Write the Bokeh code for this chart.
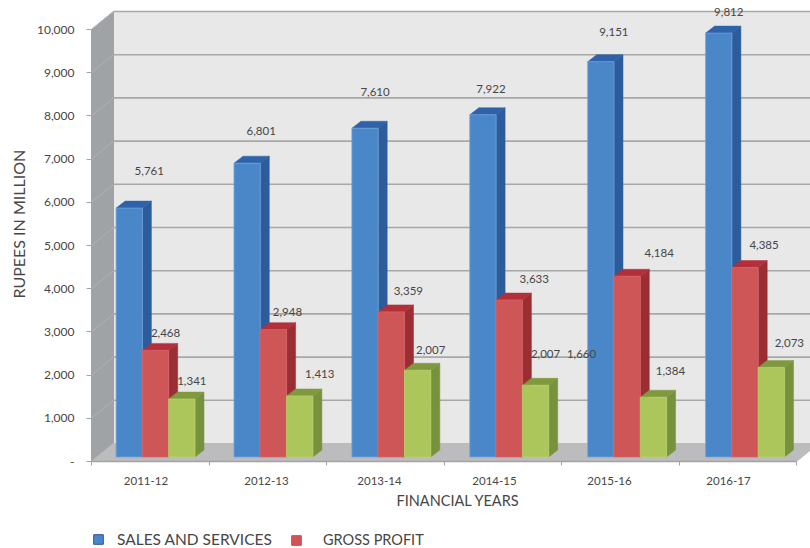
from bokeh.plotting import figure
from bokeh.layouts import column
from bokeh.models import ColumnDataSource, FixedTicker, LinearAxis, Title, Legend, LegendItem, Range1d
from bokeh.core.properties import value
from bokeh.embed import file_html
from bokeh.resources import INLINE

# Chart data
years = ["2011-12", "2012-13", "2013-14", "2014-15", "2015-16", "2016-17"]
sales = [5761, 6801, 7610, 7922, 9151, 9812]
gross = [2468, 2948, 3359, 3633, 4184, 4385]
other = [1341, 1413, 2007, 1660, 1384, 2073]
extra_label = "2,007"

# Hand-placed data label nudges, in pixels from the top centre of each bar
sales_nudge = [(20, 37), (14, 32), (10, 36), (8, 26), (13, 30), (10, 21)]
gross_nudge = [(10, 17), (14, 18), (17, 21), (25, 21), (32, 23), (19, 23)]
other_nudge = [(10, 18), (20, 22), (13, 20), (46, 31), (17, 26), (18, 24)]
extra_nudge = (10, 31)
year_label_px = [145.5, 266, 379, 494, 609, 728]

# Layout scale
W, H = 810, 548
KEY_H = 30
LEFT, BOTTOM = 91, 57
PX_PER_GROUP = 117.5
PX_PER_UNIT = 0.0432
FONT = "Lato"
TEXT = "#464646"
AXIS = "#a3a3a3"

dx = lambda px: px / PX_PER_GROUP
dy = lambda px: px / PX_PER_UNIT

p = figure(width=W, height=H - KEY_H, output_backend="svg", toolbar_location=None,
           min_border_left=LEFT, min_border_right=0, min_border_top=0, min_border_bottom=BOTTOM,
           x_axis_type=None, y_axis_type=None,
           x_range=Range1d(0, (W - LEFT) / PX_PER_GROUP),
           y_range=Range1d(0, dy(H - KEY_H - BOTTOM)))
p.outline_line_color = None
p.grid.visible = False
p.background_fill_color = "white"
p.border_fill_color = "white"

# 3D box: back wall, side wall, floor
WALL_X, WALL_Y = dx(22), dy(18)
x_end = 6.0
y_top = 10000
p.patch([WALL_X, x_end + WALL_X, x_end + WALL_X, WALL_X],
        [WALL_Y, WALL_Y, y_top + WALL_Y, y_top + WALL_Y], color="#e8e8e8", line_width=0)
p.patch([0, WALL_X, WALL_X, 0], [0, WALL_Y, y_top + WALL_Y, y_top],
        fill_color="#a0a3a6", line_color="#a0a3a6")
levels = list(range(1000, 11000, 1000))
p.segment([WALL_X] * 10, [v + WALL_Y for v in levels], [x_end + WALL_X] * 10, [v + WALL_Y for v in levels],
          line_color="#a8a8a8", line_width=1.6)
p.segment([0] * 10, levels, [WALL_X] * 10, [v + WALL_Y for v in levels],
          line_color="#aeb1b4", line_width=1)
p.patch([0, x_end, x_end + WALL_X, WALL_X], [0, 0, WALL_Y, WALL_Y],
        fill_color="#bcbcbe", line_color="#bcbcbe")

# Bars: each has a front face, a side face and a top face
BASE = dy(4.5)
BAR_W = dx(26.3)
DEPTH_X, DEPTH_Y = dx(9), dy(7)
START = dx(24.6)
PITCH = dx(117.9)
series = [
    (sales, "#4a87c9", "#2c5c9b", "#2f62a9", "#6fa3dc", sales_nudge),
    (gross, "#ce5656", "#9a2e33", "#b3303a", "#d9626a", gross_nudge),
    (other, "#acc65b", "#76923c", "#80993f", "#b9d06a", other_nudge),
]
label_x, label_y, label_text, label_dx, label_dy = [], [], [], [], []
for s, (vals, face, side, top, edge, nudge) in enumerate(series):
    lefts = [START + PITCH * i + BAR_W * s for i in range(len(vals))]
    rights = [x + BAR_W for x in lefts]
    tops = [v + BASE for v in vals]
    p.patches([[r, r + DEPTH_X, r + DEPTH_X, r] for r in rights],
              [[BASE, BASE + DEPTH_Y, t + DEPTH_Y, t] for t in tops],
              fill_color=side, line_color=side, line_width=0.5)
    p.patches([[l, r, r + DEPTH_X, l + DEPTH_X] for l, r in zip(lefts, rights)],
              [[t, t, t + DEPTH_Y, t + DEPTH_Y] for t in tops],
              fill_color=top, line_color=top, line_width=0.5)
    p.quad(left=lefts, right=rights, bottom=BASE, top=tops,
           fill_color=face, line_color=edge, line_width=0.8)
    for x, t, v, (nx, ny) in zip(lefts, tops, vals, nudge):
        label_x.append(x + BAR_W / 2)
        label_y.append(t)
        label_text.append(f"{v:,}")
        label_dx.append(nx)
        label_dy.append(-ny)

# The stray label sitting beside the 2014-15 value
label_x.append(START + PITCH * 3 + BAR_W * 2.5)
label_y.append(other[3] + BASE)
label_text.append(extra_label)
label_dx.append(extra_nudge[0])
label_dy.append(-extra_nudge[1])

p.text("x", "y", text="t", x_offset="ox", y_offset="oy",
       source=ColumnDataSource(dict(x=label_x, y=label_y, t=label_text, ox=label_dx, oy=label_dy)),
       text_font=value(FONT), text_font_size="11.5px", text_color=TEXT,
       text_align="center", text_baseline="middle")

# Value axis
y_axis = LinearAxis(bounds=(0, 10000), ticker=FixedTicker(ticks=[0] + levels))
y_axis.major_label_overrides = {v: ("-" if v == 0 else f"{v:,}") for v in [0] + levels}
y_axis.axis_line_color = AXIS
y_axis.major_tick_line_color = AXIS
y_axis.major_tick_out = 5
y_axis.major_tick_in = 0
y_axis.minor_tick_line_color = None
y_axis.major_label_standoff = 12
y_axis.major_label_text_font = FONT
y_axis.major_label_text_font_size = "12px"
y_axis.major_label_text_color = TEXT
p.add_layout(y_axis, "left")

# Category axis: minor ticks mark group edges, major ticks carry the year labels
year_ticks = [round((px - LEFT) / PX_PER_GROUP, 4) for px in year_label_px]
x_axis = LinearAxis(bounds=(0, 6), ticker=FixedTicker(ticks=year_ticks, minor_ticks=list(range(7))))
x_axis.major_label_overrides = dict(zip(year_ticks, years))
x_axis.axis_line_color = AXIS
x_axis.axis_line_width = 1.5
x_axis.major_tick_line_color = None
x_axis.minor_tick_line_color = AXIS
x_axis.minor_tick_out = 4
x_axis.minor_tick_in = 0
x_axis.major_label_standoff = 9
x_axis.major_label_text_font = FONT
x_axis.major_label_text_font_size = "11.5px"
x_axis.major_label_text_color = TEXT
p.add_layout(x_axis, "below")

# Axis titles
x_title = Title(text="FINANCIAL YEARS", align="left", offset=305, standoff=5,
                text_font=FONT, text_font_size="14.5px", text_font_style="normal", text_color=TEXT)
p.add_layout(x_title, "below")
y_title = Title(text="RUPEES IN MILLION", align="left", offset=163, standoff=12,
                text_font=FONT, text_font_size="16px", text_font_style="normal", text_color=TEXT)
p.add_layout(y_title, "left")

# Legend strip under the chart; its swatch quads sit outside the visible range
key = figure(width=W, height=KEY_H, output_backend="svg", toolbar_location=None,
             min_border=0, x_axis_type=None, y_axis_type=None,
             x_range=Range1d(0, W), y_range=Range1d(0, KEY_H))
key.outline_line_color = None
key.grid.visible = False
key.border_fill_color = "white"
offscreen = dict(left=[-20], right=[-10], top=[-10], bottom=[-20])
sales_key = key.quad(source=ColumnDataSource(offscreen), left="left", right="right", top="top", bottom="bottom",
                     fill_color="#4a87c9", line_color="#2a52a0", line_width=1)
gross_key = key.quad(source=ColumnDataSource(offscreen), left="left", right="right", top="top", bottom="bottom",
                     fill_color="#ce5656", line_color="#e83a4a", line_width=1)
common = dict(orientation="horizontal", padding=0, margin=0, glyph_width=12, glyph_height=12,
              border_line_color=None, background_fill_alpha=0, label_text_font=FONT,
              label_text_color=TEXT, label_height=14)
key.add_layout(Legend(items=[LegendItem(label="SALES AND SERVICES", renderers=[sales_key])],
                      location=(1, 0), label_standoff=13, label_text_font_size="15.5px", **common), "center")
key.add_layout(Legend(items=[LegendItem(label="GROSS PROFIT", renderers=[gross_key])],
                      location=(199, 0), label_standoff=21, label_text_font_size="14.5px", **common), "center")

layout = column(p, key, spacing=0)
open("out.html", "w").write(file_html(layout, INLINE))
